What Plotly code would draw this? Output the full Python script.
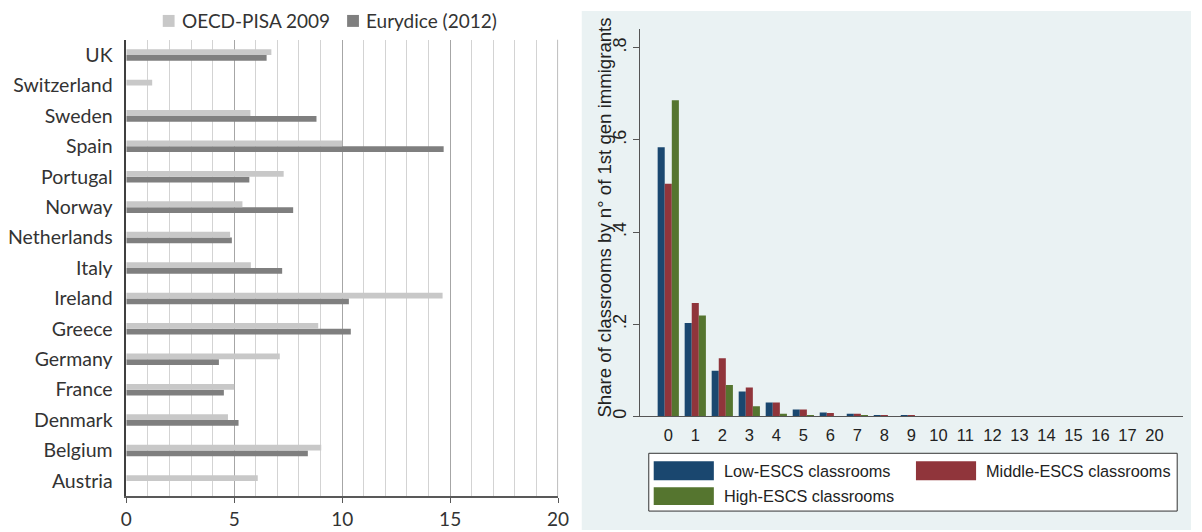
import plotly.graph_objects as go

W, H = 1202, 532

# Left panel: share of immigrant pupils by country (%)
countries = ["Austria", "Belgium", "Denmark", "France", "Germany", "Greece", "Ireland",
             "Italy", "Netherlands", "Norway", "Portugal", "Spain", "Sweden",
             "Switzerland", "UK"]
pisa_2009 = [6.09, 9.03, 4.71, 5.00, 7.11, 8.89, 14.65, 5.77, 4.81, 5.38, 7.29, 10.0,
             5.75, 1.20, 6.72]
eurydice_2012 = [None, 8.41, 5.20, 4.52, 4.29, 10.40, 10.31, 7.22, 4.89, 7.73, 5.70,
                 14.70, 8.81, None, 6.50]
left_ticks = [0, 5, 10, 15, 20]

# Right panel: classroom distribution by number of 1st generation immigrants
n_immigrants = ["0", "1", "2", "3", "4", "5", "6", "7", "8", "9", "10", "11", "12",
                "13", "14", "15", "16", "17", "20"]
low_escs = [0.584, 0.203, 0.099, 0.054, 0.030, 0.015, 0.0086, 0.0057, 0.002, 0.0015,
            0.0005, 0.0004, 0.0003, 0.0003, 0.0002, 0.0002, 0.0001, 0.0001, 0.0001]
mid_escs = [0.505, 0.246, 0.126, 0.063, 0.030, 0.015, 0.0072, 0.0057, 0.002, 0.002,
            0.0008, 0.0005, 0.0003, 0.0002, 0.0002, 0.0001, 0.0001, 0.0001, 0.0001]
high_escs = [0.686, 0.219, 0.068, 0.022, 0.006, 0.0015, 0.001, 0.0014, 0.0005, 0.0003,
             0.0002, 0.0001, 0.0001, 0.0001, 0.0, 0.0, 0.0, 0.0, 0.0]
right_ticks = [0, 0.2, 0.4, 0.6, 0.8]
right_ticktext = ["0", ".2", ".4", ".6", ".8"]

LEFT_FONT = "Lato, Carlito, Calibri, sans-serif"
RIGHT_FONT = "Liberation Sans, Arial, sans-serif"
PISA_C, EURY_C = "#c8c8c8", "#7f7f7f"
NAVY, MAROON, GREEN = "#1a476f", "#90353b", "#55752f"
PANEL_BG = "#eaf2f3"


def px(x):
    return x / W


def py(y):
    return 1 - y / H


fig = go.Figure()

# horizontal bars: Eurydice sits in the lower half of each slot, PISA in the upper half
bw = 0.19
fig.add_trace(go.Bar(y=countries, x=eurydice_2012, orientation="h", name="Eurydice (2012)",
                     marker=dict(color=EURY_C, line_width=0), width=bw, offset=-bw,
                     xaxis="x", yaxis="y", showlegend=False))
fig.add_trace(go.Bar(y=countries, x=pisa_2009, orientation="h", name="OECD-PISA 2009",
                     marker=dict(color=PISA_C, line_width=0), width=bw, offset=0,
                     xaxis="x", yaxis="y", showlegend=False))

# grouped vertical bars for the three ESCS groups
gw = 0.262
for vals, name, col, off in [(low_escs, "Low-ESCS classrooms", NAVY, -1.5 * gw),
                             (mid_escs, "Middle-ESCS classrooms", MAROON, -0.5 * gw),
                             (high_escs, "High-ESCS classrooms", GREEN, 0.5 * gw)]:
    fig.add_trace(go.Bar(x=n_immigrants, y=vals, name=name,
                         marker=dict(color=col, line_width=0), width=gw, offset=off,
                         xaxis="x2", yaxis="y2", showlegend=False))

shapes = []
annotations = []

# background of the right-hand graph region
shapes.append(dict(type="rect", xref="paper", yref="paper", x0=px(584), x1=1.0,
                   y0=0.0, y1=py(11), fillcolor=PANEL_BG, line_width=0, layer="below"))

# closing gridline at the right end of the left panel
shapes.append(dict(type="line", xref="x", yref="paper", x0=20, x1=20,
                   y0=py(498), y1=py(40), line=dict(color="#a6a6a6", width=1.5)))

# left legend
for x0, col, label in [(159, PISA_C, "OECD-PISA 2009"), (346, EURY_C, "Eurydice (2012)")]:
    shapes.append(dict(type="rect", xref="paper", yref="paper", x0=px(x0), x1=px(x0 + 12),
                       y0=py(27), y1=py(15), fillcolor=col, line_width=0))
    annotations.append(dict(text=label, xref="paper", yref="paper", x=px(x0 + 17), y=py(21),
                            xanchor="left", yanchor="middle", showarrow=False,
                            font=dict(family=LEFT_FONT, size=19, color="#333333")))

# right legend box
shapes.append(dict(type="rect", xref="paper", yref="paper", x0=px(652), x1=px(1188),
                   y0=py(513), y1=py(455), fillcolor="white",
                   line=dict(color="#333333", width=1)))
for (x0, y0, y1, col, label) in [(657, 463, 482, NAVY, "Low-ESCS classrooms"),
                                 (923, 463, 482, MAROON, "Middle-ESCS classrooms"),
                                 (657, 489, 507, GREEN, "High-ESCS classrooms")]:
    shapes.append(dict(type="rect", xref="paper", yref="paper", x0=px(x0), x1=px(x0 + 61),
                       y0=py(y1), y1=py(y0), fillcolor=col, line_width=0))
    annotations.append(dict(text=label, xref="paper", yref="paper", x=px(x0 + 69),
                            y=py((y0 + y1) / 2), xanchor="left", yanchor="middle",
                            showarrow=False,
                            font=dict(family=RIGHT_FONT, size=16.3, color="#222222")))

# right y-axis title
annotations.append(dict(text="Share of classrooms by n° of 1st gen immigrants",
                        xref="paper", yref="paper", x=px(607), y=py(218), textangle=-90,
                        xanchor="center", yanchor="middle", showarrow=False,
                        font=dict(family=RIGHT_FONT, size=18.6, color="#222222")))

fig.update_layout(
    width=W, height=H,
    margin=dict(l=0, r=0, t=0, b=0),
    paper_bgcolor="white", plot_bgcolor="white",
    barmode="group",
    showlegend=False,
    shapes=shapes,
    annotations=annotations,
    xaxis=dict(domain=[px(122), px(560)], anchor="y", range=[0, 20],
               tickvals=left_ticks, ticks="outside", ticklen=5, tickcolor="#595959",
               showline=True, linecolor="#595959", linewidth=1.5,
               showgrid=True, gridcolor="#a6a6a6", gridwidth=1,
               minor=dict(dtick=1, showgrid=True, gridcolor="#d3d3d3", gridwidth=1),
               zeroline=False, fixedrange=True,
               tickfont=dict(family=LEFT_FONT, size=19, color="#333333")),
    yaxis=dict(domain=[py(498), py(40)], anchor="x", type="category",
               categoryorder="array", categoryarray=countries, range=[-0.5, 14.5],
               showline=True, linecolor="#404040", linewidth=1.5, ticks="",
               showgrid=False, ticklabelstandoff=8, fixedrange=True,
               tickfont=dict(family=LEFT_FONT, size=19.5, color="#333333")),
    xaxis2=dict(domain=[px(643), px(1194)], anchor="y2", type="category",
                categoryorder="array", categoryarray=n_immigrants, range=[-1.05, 19.06],
                showline=True, linecolor="#555555", linewidth=1, ticks="",
                showgrid=False, fixedrange=True, ticklabelstandoff=4,
                tickfont=dict(family=RIGHT_FONT, size=16.5, color="#222222")),
    yaxis2=dict(domain=[py(418), py(29)], anchor="x2", range=[0, 0.841],
                tickvals=right_ticks, ticktext=right_ticktext, tickangle=-90,
                ticks="outside", ticklen=6, tickcolor="#555555",
                showline=True, linecolor="#555555", linewidth=1,
                showgrid=True, gridcolor=PANEL_BG, gridwidth=1, zeroline=False,
                fixedrange=True,
                tickfont=dict(family=RIGHT_FONT, size=18, color="#222222")),
)

fig.write_html("out.html", config={"displayModeBar": False})
